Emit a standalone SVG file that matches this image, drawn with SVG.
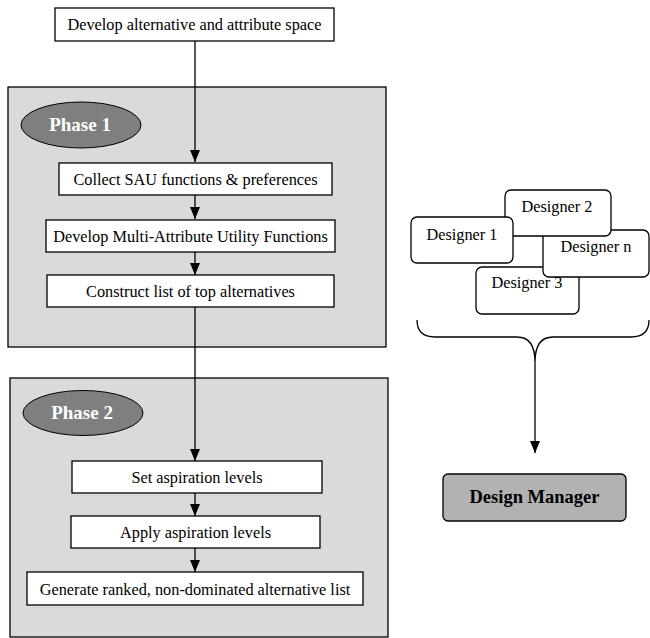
<svg xmlns="http://www.w3.org/2000/svg" width="650" height="638" viewBox="0 0 650 638">
<style>
.box{fill:#fff;stroke:#000;stroke-width:1.3}
.panel{fill:#dcdad8;stroke:#000;stroke-width:1.3}
.oval{fill:#7f7f7f;stroke:#000;stroke-width:1}
.dz{fill:#fff;stroke:#000;stroke-width:1.3}
text{font-family:'Liberation Serif','Times New Roman',Times,serif}
.t{font-size:16.3px;fill:#000;text-anchor:middle}
.ph{font-size:19px;font-weight:bold;fill:#fff;text-anchor:middle}
.dm{font-size:18.5px;font-weight:bold;fill:#000;text-anchor:middle}
.ln{fill:none;stroke:#000;stroke-width:1.3}
</style>
<defs>
<marker id="ah" markerWidth="12" markerHeight="10" refX="12" refY="5" orient="auto" markerUnits="userSpaceOnUse">
<path d="M0,0 L12,5 L0,10 Z" fill="#000"/>
</marker>
</defs>
<g id="phase1-panel"><rect class="panel" x="8" y="87" width="378" height="260"/>
<ellipse class="oval" cx="81" cy="125" rx="60" ry="23"/><text class="ph" x="80" y="131">Phase 1</text></g>
<g id="phase2-panel"><rect class="panel" x="10" y="378" width="378" height="259"/>
<ellipse class="oval" cx="83" cy="413" rx="60" ry="22.5"/><text class="ph" x="82" y="419">Phase 2</text></g>
<g id="connectors">
<line class="ln" x1="195" y1="41" x2="195" y2="162" marker-end="url(#ah)"/>
<line class="ln" x1="195" y1="195" x2="195" y2="219" marker-end="url(#ah)"/>
<line class="ln" x1="195" y1="252" x2="195" y2="275" marker-end="url(#ah)"/>
<line class="ln" x1="195" y1="307" x2="195" y2="461" marker-end="url(#ah)"/>
<line class="ln" x1="195" y1="493" x2="195" y2="516" marker-end="url(#ah)"/>
<line class="ln" x1="195" y1="548" x2="195" y2="572" marker-end="url(#ah)"/>
<path class="ln" d="M417,320 Q417,337 435,337 L517,337 Q535,337 535,362 Q535,337 553,337 L631,337 Q649,337 649,320"/>
<line class="ln" x1="535" y1="362" x2="535" y2="453" marker-end="url(#ah)"/>
</g>
<g id="n-develop-space"><rect class="box" x="55" y="8" width="279" height="33"/><text class="t" x="194.5" y="30">Develop alternative and attribute space</text></g>
<g id="n-collect"><rect class="box" x="59" y="163" width="273" height="32"/><text class="t" x="195.5" y="184.5">Collect SAU functions &amp; preferences</text></g>
<g id="n-mau"><rect class="box" x="46" y="220" width="289" height="32"/><text class="t" x="190.5" y="241.5">Develop Multi-Attribute Utility Functions</text></g>
<g id="n-construct"><rect class="box" x="47" y="275" width="287" height="32"/><text class="t" x="190.5" y="297">Construct list of top alternatives</text></g>
<g id="n-set"><rect class="box" x="72" y="461" width="250" height="32"/><text class="t" x="197" y="483">Set aspiration levels</text></g>
<g id="n-apply"><rect class="box" x="71" y="516" width="249" height="32"/><text class="t" x="195.5" y="538">Apply aspiration levels</text></g>
<g id="n-generate"><rect class="box" x="27" y="572" width="336" height="33"/><text class="t" x="195" y="595">Generate ranked, non-dominated alternative list</text></g>
<g id="n-designer3"><rect class="dz" x="476" y="267" width="103" height="47" rx="6"/><text class="t" x="527" y="288">Designer 3</text></g>
<g id="n-designern"><rect class="dz" x="543" y="230" width="106" height="47" rx="6"/><text class="t" x="596" y="252">Designer n</text></g>
<g id="n-designer2"><rect class="dz" x="505" y="190" width="106" height="46" rx="6"/><text class="t" x="557" y="212">Designer 2</text></g>
<g id="n-designer1"><rect class="dz" x="411" y="217" width="102" height="46" rx="6"/><text class="t" x="462" y="240">Designer 1</text></g>
<g id="n-manager"><rect x="443" y="474" width="183" height="47" rx="5" fill="#b2b2b2" stroke="#000" stroke-width="1.3"/><text class="dm" x="534.5" y="503">Design Manager</text></g>
</svg>
